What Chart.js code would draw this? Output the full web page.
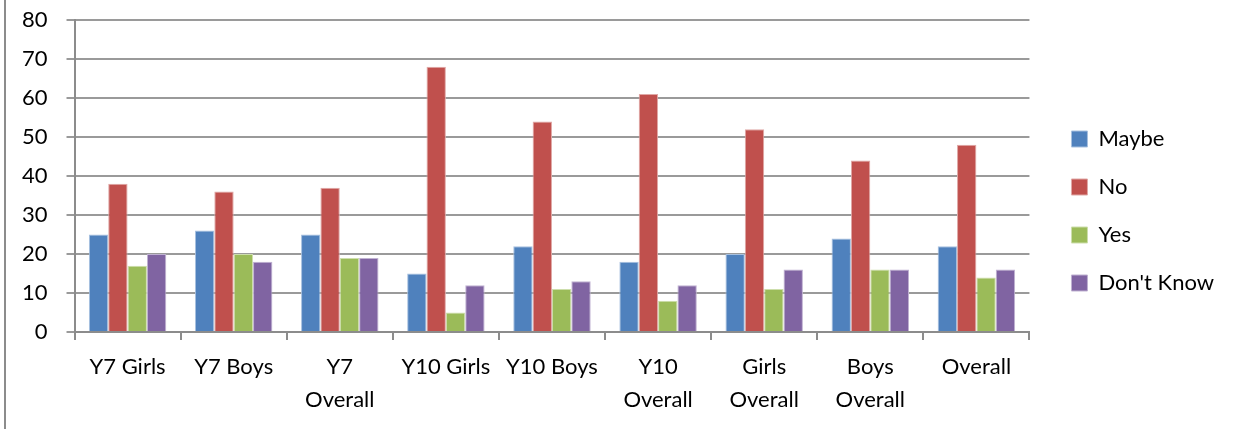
<!DOCTYPE html>
<html>
<head>
<meta charset="utf-8">
<script src="https://cdn.jsdelivr.net/npm/chart.js@4"></script>
<style>
  html, body { margin: 0; padding: 0; background: #fff; }
  #wrap { position: relative; width: 1243px; height: 429px; }
  #edge { position: absolute; left: 4px; top: 0; width: 2px; height: 429px; background: #8c8c8c; }
  canvas { position: absolute; left: 0; top: 0; }
</style>
</head>
<body>
<div id="wrap">
  <canvas id="c" width="1243" height="429"></canvas>
  <div id="edge"></div>
</div>
<script>
const categories = ["Y7 Girls", "Y7 Boys", ["Y7", "Overall"], "Y10 Girls", "Y10 Boys", ["Y10", "Overall"], ["Girls", "Overall"], ["Boys", "Overall"], "Overall"];
const maybe    = [25, 26, 25, 15, 22, 18, 20, 24, 22];
const no       = [38, 36, 37, 68, 54, 61, 52, 44, 48];
const yes      = [17, 20, 19,  5, 11,  8, 11, 16, 14];
const dontKnow = [20, 18, 19, 12, 13, 12, 16, 16, 16];
const seriesNames = ["Maybe", "No", "Yes", "Don't Know"];
const yTicks = [0, 10, 20, 30, 40, 50, 60, 70, 80];

const colors = ["#4F81BD", "#C0504D", "#9BBB59", "#8064A2"];
const edges  = ["#a7c0df", "#e0a8a6", "#cddeac", "#bfb1d1"];
const FONT = "Lato, 'Open Sans', sans-serif";

const data = {
  labels: categories,
  datasets: [maybe, no, yes, dontKnow].map((vals, i) => ({
    label: seriesNames[i],
    data: vals,
    backgroundColor: colors[i],
    borderColor: edges[i],
    borderWidth: 1,
    categoryPercentage: 0.73,
    barPercentage: 1.0
  }))
};

new Chart(document.getElementById('c'), {
  type: 'bar',
  data,
  options: {
    responsive: false,
    animation: false,
    devicePixelRatio: 1,
    layout: { padding: { left: 3, top: 20, right: 19, bottom: 3 } },
    scales: {
      x: {
        grid: { offset: true, drawOnChartArea: false, drawTicks: true, tickLength: 8, color: '#8c8c8c', lineWidth: 2 },
        border: { color: '#8c8c8c', width: 2 },
        ticks: { color: '#000', font: { family: FONT, size: 22, lineHeight: 1.5 }, padding: 10, maxRotation: 0, autoSkip: false }
      },
      y: {
        min: 0, max: 80,
        afterBuildTicks: (axis) => { axis.ticks = yTicks.map(v => ({ value: v })); },
        afterFit: (axis) => { axis.paddingTop = 0; axis.paddingBottom = 0; },
        grid: { color: '#9a9a9a', lineWidth: 2, tickLength: 8, drawTicks: true },
        border: { color: '#8c8c8c', width: 2 },
        ticks: { color: '#000', font: { family: FONT, size: 22 }, padding: 19 }
      },
      gap: {
        type: 'linear', position: 'right', display: true,
        grid: { display: false }, border: { display: false }, ticks: { display: false },
        afterFit: (axis) => { axis.width = 16; }
      }
    },
    plugins: {
      tooltip: { enabled: false },
      legend: {
        position: 'right',
        align: 'start',
        title: { display: true, text: '', font: { size: 10, lineHeight: 1 }, padding: { top: 0, bottom: 72 } },
        labels: {
          boxWidth: 16, boxHeight: 16, padding: 26,
          color: '#000',
          font: { family: FONT, size: 22 }
        }
      }
    }
  }
});
</script>
</body>
</html>
